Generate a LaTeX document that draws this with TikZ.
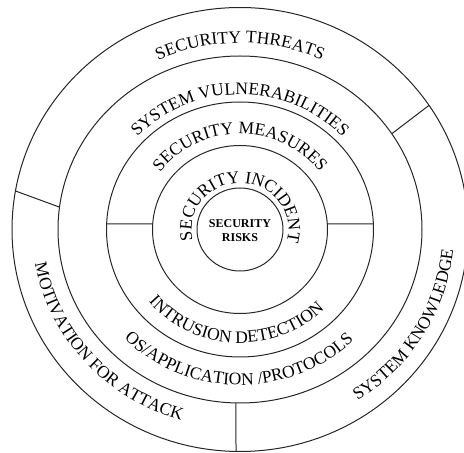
\documentclass[tikz,border=0pt]{standalone}
\usepackage{fontspec}
\setmainfont{Liberation Serif}
\usetikzlibrary{decorations.text}
\newcommand\ringfont{\fontsize{17.5}{20}\selectfont}
\begin{document}
\begin{tikzpicture}[x=1pt,y=1pt,
  ring/.style={line width=1pt, draw=black!85},
  divider/.style={line width=1pt, draw=black!85},
  ringtext/.style={decorate, decoration={text along path, text align=center, text={|\ringfont|#1}}},
]
\useasboundingbox (0,0) rectangle (464,453);
\coordinate (C) at (240pt,223.5pt);

% rings
\draw[ring] (C) ellipse[x radius=43pt, y radius=41.5pt];
\draw[ring] (C) ellipse[x radius=87.5pt, y radius=84pt];
\draw[ring] (C) ellipse[x radius=133.5pt, y radius=127.5pt];
\draw[ring] (C) ellipse[x radius=182pt, y radius=173.5pt];
\draw[ring] (C) ellipse[x radius=228pt, y radius=222pt];

% divider end points
\path (C) ++(177.5:133.5pt and 127.5pt) coordinate (l3);
\path (C) ++(176.2:87.5pt and 84pt) coordinate (l2);
\path (C) ++(3.8:87.5pt and 84pt) coordinate (r2);
\path (C) ++(2.5:133.5pt and 127.5pt) coordinate (r3);
\path (C) ++(172.6:182pt and 173.5pt) coordinate (w4);
\path (C) ++(170:228pt and 222pt) coordinate (w5);
\path (C) ++(33.5:182pt and 173.5pt) coordinate (e4);
\path (C) ++(34:228pt and 222pt) coordinate (e5);
\path (C) ++(268.7:182pt and 173.5pt) coordinate (s4);
\path (C) ++(269:228pt and 222pt) coordinate (s5);

\draw[divider] (l3) -- (l2);
\draw[divider] (r2) -- (r3);
\draw[divider] (w4) -- (w5);
\draw[divider] (e4) -- (e5);
\draw[divider] (s4) -- (s5);

% top texts (clockwise)
\path[ringtext={SECURITY THREATS}] (C) ++(170:194.9pt and 186.5pt)
  arc[start angle=170, end angle=10, x radius=194.9pt, y radius=186.5pt];
\path[ringtext={SYSTEM VULNERABILITIES}] (C) ++(175:141.1pt and 135pt)
  arc[start angle=175, end angle=5, x radius=141.1pt, y radius=135pt];
\path[ringtext={SECURITY MEASURES}] (C) ++(178:99.8pt and 95.5pt)
  arc[start angle=178, end angle=2, x radius=99.8pt, y radius=95.5pt];
\path[ringtext={SECURITY INCIDENT}] (C) ++(240:48.4pt and 46.5pt)
  arc[start angle=240, end angle=-62, x radius=48.4pt, y radius=46.5pt];

% bottom texts (counter-clockwise)
\path[ringtext={INTRUSION DETECTION}] (C) ++(185:118.6pt and 113.5pt)
  arc[start angle=185, end angle=350, x radius=118.6pt, y radius=113.5pt];
\path[ringtext={OS/APPLICATION /PROTOCOLS}] (C) ++(187:162.5pt and 155.5pt)
  arc[start angle=187, end angle=352, x radius=162.5pt, y radius=155.5pt];
\path[ringtext={MOTIVATION FOR ATTACK}] (C) ++(150:208pt and 199pt)
  arc[start angle=150, end angle=292, x radius=208pt, y radius=199pt];
\path[ringtext={SYSTEM KNOWLEDGE}] (C) ++(260:214.2pt and 205pt)
  arc[start angle=260, end angle=399.2, x radius=214.2pt, y radius=205pt];

% centre
\node[align=center, font=\bfseries\fontsize{12}{14}\selectfont] (risks) at ([yshift=-1.5pt]C) {SECURITY\\RISKS};
\end{tikzpicture}
\end{document}
